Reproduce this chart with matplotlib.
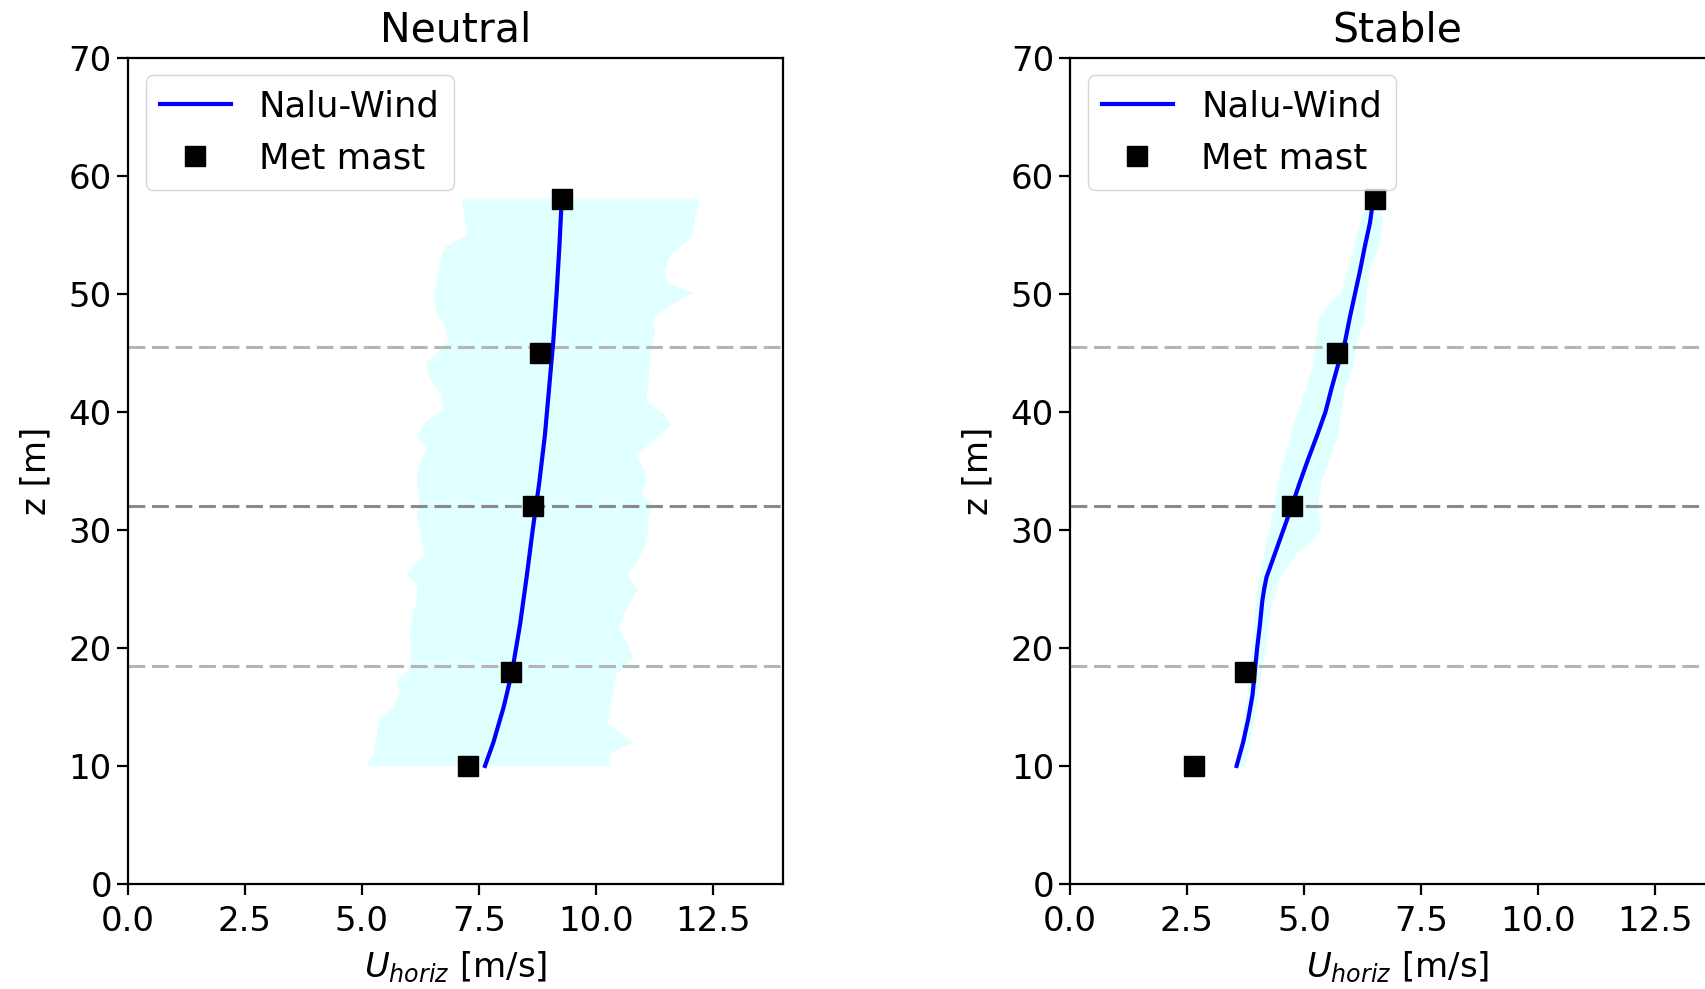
import numpy as np
import matplotlib.pyplot as plt

# Met mast heights and measured wind speeds
z_mast = [10, 18, 32, 45, 58]
u_mast_neutral = [7.27, 8.19, 8.66, 8.8, 9.28]
u_mast_stable = [2.66, 3.73, 4.75, 5.71, 6.52]

# Nalu-Wind mean profiles
z_nalu_neutral = [10, 12, 15, 18, 22, 26, 30, 34, 38, 42, 46, 50, 54, 58]
u_nalu_neutral = [7.63, 7.81, 8.03, 8.21, 8.38, 8.52, 8.65, 8.79, 8.91, 9.0,
                  9.09, 9.16, 9.22, 9.27]
z_nalu_stable = [10, 12, 14, 16, 18, 20, 22, 24, 25, 26, 28, 30, 32, 34, 36,
                 38, 40, 42, 44, 46, 48, 50, 52, 54, 56, 58]
u_nalu_stable = [3.56, 3.70, 3.81, 3.90, 3.95, 4.0, 4.06, 4.11, 4.15, 4.20,
                 4.38, 4.56, 4.74, 4.91, 5.09, 5.28, 5.46, 5.59, 5.73, 5.88,
                 5.98, 6.09, 6.2, 6.30, 6.41, 6.48]

# min / max envelope of the simulation (left and right edges)
z_lo_neutral = [10, 11, 12.3, 14.1, 14.9, 16.2, 17.2, 18.1, 19.1, 21.1, 22.4,
                24, 25.3, 26.2, 27.9, 29.2, 31.1, 32.1, 34, 35.3, 37, 37.9,
                39.2, 40.2, 41.5, 42.8, 44.1, 45.2, 46, 47.7, 48.3, 49.9, 51.9,
                52.7, 54, 55, 56.4, 58]
u_lo_neutral = [5.1, 5.24, 5.31, 5.38, 5.67, 5.81, 5.74, 5.99, 6.06, 6.02,
                6.06, 6.17, 6.2, 5.95, 6.35, 6.27, 6.17, 6.24, 6.17, 6.2, 6.38,
                6.17, 6.38, 6.74, 6.67, 6.45, 6.38, 6.67, 6.85, 6.74, 6.6, 6.53,
                6.64, 6.67, 6.78, 7.24, 7.2, 7.13]
z_hi_neutral = [10, 11, 12, 12.9, 13.6, 14.6, 16.2, 17.8, 19.1, 20.4, 21.7,
                23.3, 24.9, 26.2, 27.2, 28.5, 29.8, 31.1, 32.1, 33.1, 34, 35,
                36.3, 37.3, 38.9, 39.9, 40.9, 42.2, 43.5, 45.4, 46.7, 48, 49,
                50.1, 50.9, 51.9, 53.2, 54.8, 56.4, 58]
u_hi_neutral = [10.29, 10.29, 10.79, 10.47, 10.25, 10.29, 10.36, 10.43, 10.79,
                10.68, 10.5, 10.65, 10.9, 10.68, 10.86, 11.04, 11.11, 11.11,
                11.22, 10.97, 11.08, 11.04, 10.86, 11.15, 11.61, 11.43, 11.08,
                11.11, 11.15, 11.18, 11.26, 11.22, 11.58, 12.08, 11.54, 11.47,
                11.58, 12.04, 12.12, 12.22]

z_lo_stable = [10, 12, 14, 16, 18, 20, 22, 24, 26, 28, 30, 32, 34, 36, 38, 40,
               42, 44, 46, 48, 49, 50, 52, 54, 56, 58]
u_lo_stable = [3.53, 3.65, 3.72, 3.79, 3.83, 3.90, 3.94, 3.97, 4.05, 4.15,
               4.26, 4.37, 4.44, 4.58, 4.72, 4.87, 5.05, 5.19, 5.26, 5.32, 5.50,
               5.79, 5.93, 6.07, 6.2, 6.34]
z_hi_stable = [10, 12, 14, 16, 18, 20, 22, 24, 26, 28, 29, 30, 32, 34, 36, 38,
               40, 42, 43, 44, 46, 48, 50, 52, 54, 56, 58]
u_hi_stable = [3.74, 3.85, 3.95, 4.02, 4.10, 4.20, 4.24, 4.34, 4.49, 4.84,
               5.13, 5.37, 5.30, 5.37, 5.55, 5.73, 5.80, 5.88, 5.98, 6.06,
               6.13, 6.30, 6.34, 6.41, 6.59, 6.70, 6.62]

# rotor bottom, hub, rotor top
hub_height = 32
rotor_radius = 13.5

titles = ['Neutral', 'Stable']

fs = 24.5
plt.rcParams['font.size'] = fs

fig = plt.figure(figsize=(17.06, 9.89), dpi=100)
ax1 = fig.add_axes([0.075, 0.1062, 0.384, 0.8354])
ax2 = fig.add_axes([0.6272, 0.1062, 0.384, 0.8354])

cases = [
    (ax1, u_lo_neutral, z_lo_neutral, u_hi_neutral, z_hi_neutral,
     u_nalu_neutral, z_nalu_neutral, u_mast_neutral),
    (ax2, u_lo_stable, z_lo_stable, u_hi_stable, z_hi_stable,
     u_nalu_stable, z_nalu_stable, u_mast_stable),
]

for i, (ax, ulo, zlo, uhi, zhi, un, zn, um) in enumerate(cases):
    # envelope as a polygon
    ax.fill(np.r_[ulo, uhi[::-1]], np.r_[zlo, zhi[::-1]],
            color='lightcyan', lw=0, zorder=1)
    ax.axhline(hub_height + rotor_radius, color='#b5b5b5', lw=2.2,
               ls=(0, (5.5, 2.2)), zorder=2)
    ax.axhline(hub_height, color='#8a8a8a', lw=2.2,
               ls=(0, (5.5, 2.2)), zorder=2)
    ax.axhline(hub_height - rotor_radius, color='#b5b5b5', lw=2.2,
               ls=(0, (5.5, 2.2)), zorder=2)
    ax.plot(un, zn, color='blue', lw=3.0, label='Nalu-Wind', zorder=3)
    ax.plot(um, z_mast, 's', color='black', ms=14, label='Met mast', zorder=4)

    ax.set_xlim(0, 14)
    ax.set_ylim(0, 70)
    ax.set_title(titles[i], fontsize=29.5, pad=12)
    ax.set_xlabel('$U_{horiz}$ [m/s]', fontsize=fs, labelpad=8)
    ax.set_ylabel('z [m]', fontsize=fs, labelpad=12)
    ax.tick_params(labelsize=fs, length=8, width=1.6)
    ax.tick_params(axis='x', pad=7.5)
    for s in ax.spines.values():
        s.set_linewidth(1.6)
    ax.legend(loc='upper left', fontsize=25.5)

plt.savefig('out.png', dpi=100)
